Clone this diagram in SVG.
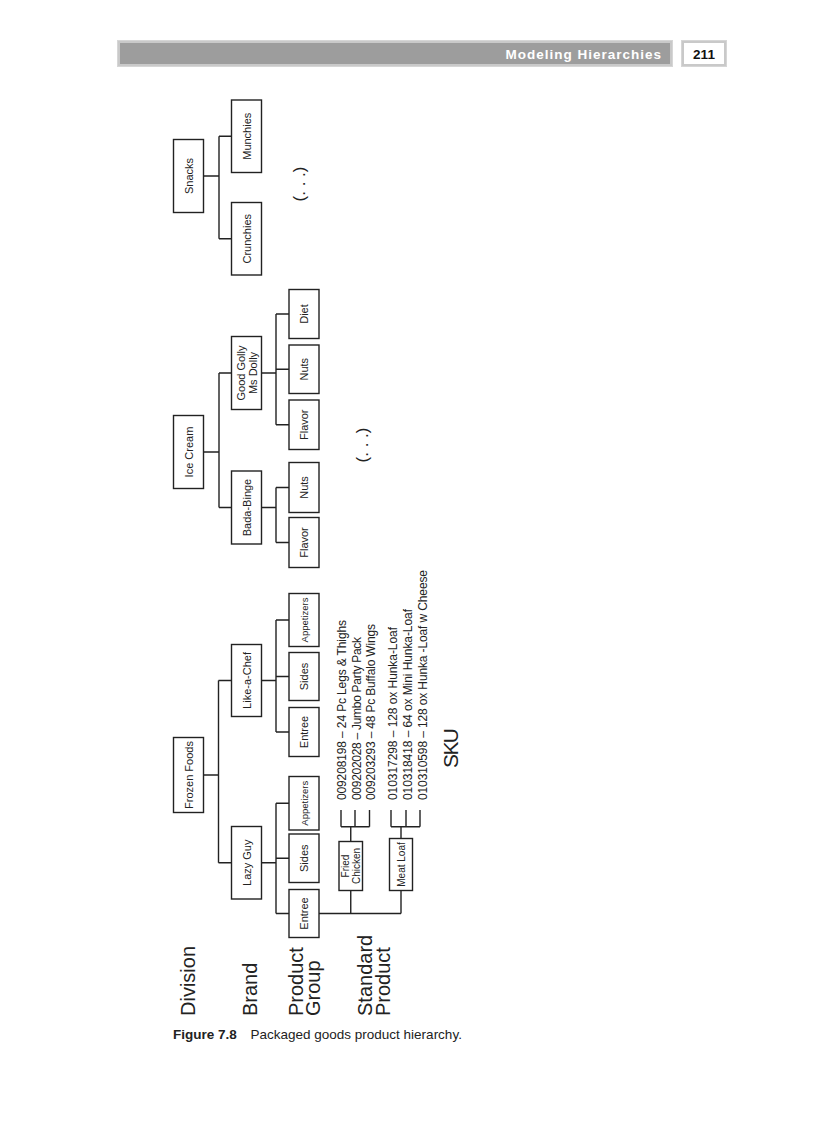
<svg xmlns="http://www.w3.org/2000/svg" width="816" height="1123" viewBox="0 0 816 1123">
<style>
.bx{fill:#fff;stroke:#222;stroke-width:1.4}
.ln{fill:none;stroke:#222;stroke-width:1.4}
text{font-family:'Liberation Sans',Arial,sans-serif;fill:#222}
.n{font-size:11px;text-anchor:middle}
.s{font-size:9.5px;text-anchor:middle}
.sku{font-size:12px}
.lvl{font-size:20px}
</style>
<rect width="816" height="1123" fill="#fff"/>
<g id="header">
<rect x="117.5" y="40.5" width="555" height="26" fill="#c9c9c9" stroke="#d6d6d6"/>
<rect x="120" y="43" width="550" height="21" fill="#9d9d9d"/>
<text x="662" y="58.5" text-anchor="end" style="font-size:13.5px;font-weight:bold;fill:#fff;letter-spacing:1px">Modeling Hierarchies</text>
<rect x="681.5" y="40.5" width="45" height="26" fill="#c9c9c9" stroke="#d6d6d6"/>
<rect x="684" y="43" width="40" height="21" fill="#fff"/>
<text x="704" y="58.5" text-anchor="middle" style="font-size:13.5px;font-weight:bold;fill:#111">211</text>
</g>
<g id="connectors" class="ln">
<path d="M203.5 176H219M219 136.25V238.75M219 136.25H231.5M219 238.75H231.5"/>
<path d="M203.5 452H219M219 373V507.5M219 373H231.5M219 507.5H231.5"/>
<path d="M261.5 373H276M276 314V424.75M276 314H289M276 369.25H289M276 424.75H289"/>
<path d="M261.5 507.5H276M276 487.5V542.5M276 487.5H289M276 542.5H289"/>
<path d="M203.5 775H218.5M218.5 680.5V862.75M218.5 680.5H231.5M218.5 862.75H231.5"/>
<path d="M261.5 680.5H276M276 620V732M276 620H289M276 676.5H289M276 732H289"/>
<path d="M261.5 862.75H276M276 803.25V913.5M276 803.25H289M276 858.25H289M276 913.5H289"/>
<path d="M319 913.5H401M350.75 890.5V913.5M401 890.5V913.5"/>
<path d="M350.75 841.5V826.7M341 826.7H369.5M341 826.7V810M355 826.7V810M369.5 826.7V810"/>
<path d="M401 838.5V826.7M391 826.7H420M391 826.7V810M406 826.7V810M420 826.7V810"/>
</g>
<g id="snacks"><rect class="bx" x="173.5" y="139.5" width="30" height="73"/><text class="n" transform="translate(192.5 176) rotate(-90)">Snacks</text></g>
<g id="icecream"><rect class="bx" x="173.5" y="415.5" width="30" height="73"/><text class="n" transform="translate(192.5 452) rotate(-90)">Ice Cream</text></g>
<g id="frozenfoods"><rect class="bx" x="173.5" y="737.5" width="30" height="75"/><text class="n" transform="translate(192.5 775) rotate(-90)">Frozen Foods</text></g>
<g id="munchies"><rect class="bx" x="231.5" y="100" width="30" height="72.5"/><text class="n" transform="translate(250.5 136.25) rotate(-90)">Munchies</text></g>
<g id="crunchies"><rect class="bx" x="231.5" y="202.5" width="30" height="72.5"/><text class="n" transform="translate(250.5 238.75) rotate(-90)">Crunchies</text></g>
<g id="goodgolly"><rect class="bx" x="231.5" y="336.5" width="30" height="73"/><text class="n" transform="translate(245 373) rotate(-90)">Good Golly</text><text class="n" transform="translate(257 373) rotate(-90)">Ms Dolly</text></g>
<g id="badabinge"><rect class="bx" x="231.5" y="471" width="30" height="73"/><text class="n" transform="translate(250.5 507.5) rotate(-90)">Bada-Binge</text></g>
<g id="likeachef"><rect class="bx" x="231.5" y="644.5" width="30" height="72"/><text class="n" transform="translate(250.5 680.5) rotate(-90)">Like-a-Chef</text></g>
<g id="lazyguy"><rect class="bx" x="231.5" y="826.5" width="30" height="72.5"/><text class="n" transform="translate(250.5 862.75) rotate(-90)">Lazy Guy</text></g>
<g id="diet"><rect class="bx" x="289" y="289.5" width="30" height="49"/><text class="n" transform="translate(308 314) rotate(-90)">Diet</text></g>
<g id="nuts1"><rect class="bx" x="289" y="345" width="30" height="48.5"/><text class="n" transform="translate(308 369.25) rotate(-90)">Nuts</text></g>
<g id="flavor1"><rect class="bx" x="289" y="400" width="30" height="49.5"/><text class="n" transform="translate(308 424.75) rotate(-90)">Flavor</text></g>
<g id="nuts2"><rect class="bx" x="289" y="462.5" width="30" height="50"/><text class="n" transform="translate(308 487.5) rotate(-90)">Nuts</text></g>
<g id="flavor2"><rect class="bx" x="289" y="517.5" width="30" height="50"/><text class="n" transform="translate(308 542.5) rotate(-90)">Flavor</text></g>
<g id="appetizers1"><rect class="bx" x="289" y="593.5" width="30" height="53"/><text class="s" transform="translate(307.5 620) rotate(-90)">Appetizers</text></g>
<g id="sides1"><rect class="bx" x="289" y="652.5" width="30" height="48"/><text class="n" transform="translate(308 676.5) rotate(-90)">Sides</text></g>
<g id="entree1"><rect class="bx" x="289" y="707.5" width="30" height="49"/><text class="n" transform="translate(308 732) rotate(-90)">Entree</text></g>
<g id="appetizers2"><rect class="bx" x="289" y="776.5" width="30" height="53.5"/><text class="s" transform="translate(307.5 803.25) rotate(-90)">Appetizers</text></g>
<g id="sides2"><rect class="bx" x="289" y="834" width="30" height="48.5"/><text class="n" transform="translate(308 858.25) rotate(-90)">Sides</text></g>
<g id="entree2"><rect class="bx" x="289" y="889.5" width="30" height="48"/><text class="n" transform="translate(308 913.5) rotate(-90)">Entree</text></g>
<g id="friedchicken"><rect class="bx" x="339" y="841.5" width="23.5" height="49"/><text class="s" transform="translate(348.5 866) rotate(-90)" style="font-size:10px">Fried</text><text class="s" transform="translate(360 866) rotate(-90)" style="font-size:10px">Chicken</text></g>
<g id="meatloaf"><rect class="bx" x="389.5" y="838.5" width="23" height="52"/><text class="s" transform="translate(404.5 864.5) rotate(-90)" style="font-size:10px">Meat Loaf</text></g>
<g id="skus">
<text class="sku" transform="translate(345.5 800) rotate(-90)" textLength="180">009208198 – 24 Pc Legs &amp; Thighs</text>
<text class="sku" transform="translate(360.5 800) rotate(-90)" textLength="163">009202028 – Jumbo Party Pack</text>
<text class="sku" transform="translate(375 800) rotate(-90)" textLength="176">009203293 – 48 Pc Buffalo Wings</text>
<text class="sku" transform="translate(396.5 800) rotate(-90)" textLength="173">010317298 – 128 ox Hunka-Loaf</text>
<text class="sku" transform="translate(411.5 800) rotate(-90)" textLength="191">010318418 – 64 ox Mini Hunka-Loaf</text>
<text class="sku" transform="translate(426.5 800) rotate(-90)" textLength="230">010310598 – 128 ox Hunka -Loaf w Cheese</text>
</g>
<g id="ellipses">
<text transform="translate(305 184) rotate(-90)" text-anchor="middle" style="font-size:17px">(. . .)</text>
<text transform="translate(368 445) rotate(-90)" text-anchor="middle" style="font-size:17px">(. . .)</text>
</g>
<g id="levels">
<text class="lvl" transform="translate(194.5 1016) rotate(-90)">Division</text>
<text class="lvl" transform="translate(256.5 1016) rotate(-90)">Brand</text>
<text class="lvl" transform="translate(302.5 1016) rotate(-90)">Product</text>
<text class="lvl" transform="translate(319.5 1016) rotate(-90)">Group</text>
<text class="lvl" transform="translate(371.5 1016) rotate(-90)">Standard</text>
<text class="lvl" transform="translate(390 1016) rotate(-90)">Product</text>
<text transform="translate(458 768) rotate(-90)" textLength="40" style="font-size:21px">SKU</text>
</g>
<g id="caption">
<text x="173" y="1038.5" style="font-size:13.5px"><tspan font-weight="bold">Figure 7.8</tspan><tspan x="250.5">Packaged goods product hierarchy.</tspan></text>
</g>
</svg>
